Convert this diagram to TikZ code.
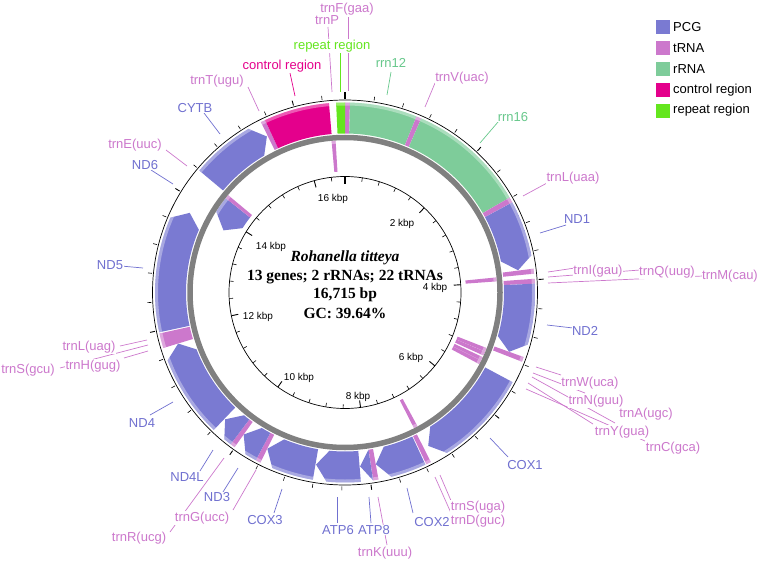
\documentclass[tikz,border=0pt]{standalone}
\usepackage{fontspec}
\setmainfont{Liberation Serif}
\setsansfont{Liberation Sans}

\definecolor{pcg}{RGB}{122,122,210}
\definecolor{trna}{RGB}{204,120,204}
\definecolor{rrna}{RGB}{126,204,154}
\definecolor{ctrl}{RGB}{228,0,140}
\definecolor{rept}{RGB}{100,230,30}
\definecolor{pcgtext}{RGB}{112,112,208}
\definecolor{rrnatext}{RGB}{104,200,140}
\definecolor{ring}{RGB}{128,128,128}

\tikzset{
  lab/.style={font=\sffamily\fontsize{13}{15}\selectfont, inner sep=0.5pt, fill=white},
  kbp/.style={font=\sffamily\fontsize{10}{12}\selectfont, inner sep=0pt},
  ctr/.style={font=\bfseries\fontsize{15.5}{18}\selectfont, inner sep=0pt},
  leg/.style={font=\sffamily\fontsize{13}{15}\selectfont, inner sep=0pt, anchor=west}
}

% shade a feature: light outer edge, slightly darker inner edge
\newcommand{\geneshade}[3]{%
  \fill[#3] #1;
  \begin{scope}
    \clip #1;
    \draw[white, opacity=0.35, line width=3pt] (0,0) circle[radius=#2];
  \end{scope}}
% features: inner radius, outer radius, start bp, end bp, colour
\newcommand{\genebox}[5]{%
  \edef\fa{\fpeval{round(#3/16715*360-90,4)}}%
  \edef\fb{\fpeval{round(#4/16715*360-90,4)}}%
  \edef\gpath{(\fa:#2) arc[start angle=\fa,end angle=\fb,radius=#2] -- (\fb:#1)
    arc[start angle=\fb,end angle=\fa,radius=#1] -- cycle}%
  \geneshade{\gpath}{\fpeval{#2-1.5}}{#5}}
\newcommand{\genefwd}[5]{%
  \edef\fa{\fpeval{round(#3/16715*360-90,4)}}%
  \edef\fb{\fpeval{round(#4/16715*360-90,4)}}%
  \edef\fm{\fpeval{(#1+#2)/2}}%
  \edef\fh{\fpeval{round(max(\fa,\fb-12/\fm*57.296),4)}}%
  \edef\gpath{(\fa:#2) arc[start angle=\fa,end angle=\fh,radius=#2] -- (\fb:\fm) -- (\fh:#1)
    arc[start angle=\fh,end angle=\fa,radius=#1] -- cycle}%
  \geneshade{\gpath}{\fpeval{#2-1.5}}{#5}}
\newcommand{\generev}[5]{%
  \edef\fa{\fpeval{round(#3/16715*360-90,4)}}%
  \edef\fb{\fpeval{round(#4/16715*360-90,4)}}%
  \edef\fm{\fpeval{(#1+#2)/2}}%
  \edef\fh{\fpeval{round(min(\fb,\fa+12/\fm*57.296),4)}}%
  \edef\gpath{(\fh:#2) arc[start angle=\fh,end angle=\fb,radius=#2] -- (\fb:#1)
    arc[start angle=\fb,end angle=\fh,radius=#1] -- (\fa:\fm) -- cycle}%
  \geneshade{\gpath}{\fpeval{#2-1.5}}{#5}}

% name/text/colour/label x/label y/ring x/ring y/end x/end y
\def\genelabels{
  trnF/trnF(gaa)/trna/347/9/348/91/348/17,
  trnP/trnP/trna/327/20/332/92/328/27,
  rep/repeat region/rept/332/46/340/92/340/53,
  ctrl/control region/ctrl/282/66/295/96/290/73,
  rrnS/rrn12/rrnatext/391/63/387/95/391/72,
  trnV/trnV(uac)/trna/462/78/425/107/435/83,
  rrnL/rrn16/rrnatext/513/117/480/143/498/122,
  trnLa/trnL(uaa)/trna/573/178/523/196/547/183,
  nadA/ND1/pcgtext/577/219/540/233/566/225,
  trnI/trnI(gau)/trna/598/271/548/272/575/268,
  trnQ/trnQ(uug)/trna/667/272/548/277/640/270,
  trnM/trnM(cau)/trna/730/276/548/283/703/276,
  nadB/ND2/pcgtext/585/331/547/325/573/328,
  trnW/trnW(uca)/trna/590/383/536/367/561/375,
  trnN/trnN(guu)/trna/596/401/533/373/585/393,
  trnA/trnA(ugc)/trna/646/414/532/377/615/423,
  trnY/trnY(gua)/trna/622/432/528/383/593/424,
  trnC/trnC(gca)/trna/673/448/526/389/645/441,
  coxA/COX1/pcgtext/525/465/490/438/508/457,
  trnSa/trnS(uga)/trna/478/507/440/475/452/503,
  trnD/trnD(guc)/trna/478/521/435/477/451/513,
  coxB/COX2/pcgtext/432/522/407/488/413/513,
  atpB/ATP8/pcgtext/374/530/369/497/371/523,
  trnK/trnK(uuu)/trna/385/553/378/497/387/545,
  atpA/ATP6/pcgtext/338/530/337/497/337/523,
  coxC/COX3/pcgtext/265/520/282/489/274/513,
  trnG/trnG(ucc)/trna/202/518/256/470/233/510,
  nadC/ND3/pcgtext/217/497/238/468/223/492,
  nadD/ND4L/pcgtext/187/477/213/450/200/471,
  trnR/trnR(ucg)/trna/139/538/224/458/170/532,
  nadE/ND4/pcgtext/142/423/173/402/150/415,
  trnLb/trnL(uag)/trna/89/347/147/340/120/346,
  trnH/trnH(gug)/trna/93/366/148/351/124/358,
  trnSb/trnS(gcu)/trna/28/370/148/345/60/368,
  nadF/ND5/pcgtext/110/265/143/268/121/266,
  nadG/ND6/pcgtext/145/165/173/184/151/170,
  trnE/trnE(uuc)/trna/135/145/187/166/166/150,
  cob/CYTB/pcgtext/195/108/220/134/204/113,
  trnT/trnT(ugu)/trna/217/81/259/111/248/87}

\begin{document}
\begin{tikzpicture}[x=1pt,y=-1pt]
\useasboundingbox (0,0) rectangle (760,564);

\begin{scope}[shift={(345,292.5)}]
% outer strand
\genebox{159}{190}{1}{69}{trna}
\genebox{159}{190}{70}{1026}{rrna}
\genebox{159}{190}{1027}{1098}{trna}
\genebox{159}{190}{1099}{2787}{rrna}
\genebox{159}{190}{2788}{2863}{trna}
\genefwd{159}{190}{2865}{3839}{pcg}
\genebox{159}{190}{3844}{3915}{trna}
\genebox{159}{190}{3986}{4054}{trna}
\genefwd{159}{190}{4055}{5101}{pcg}
\genebox{159}{190}{5101}{5171}{trna}
\genefwd{159}{190}{5485}{7035}{pcg}
\genebox{159}{190}{7110}{7181}{trna}
\genefwd{159}{190}{7195}{7885}{pcg}
\genebox{159}{190}{7886}{7961}{trna}
\genefwd{159}{190}{7963}{8127}{pcg}
\genefwd{159}{190}{8135}{8801}{pcg}
\genefwd{159}{190}{8810}{9585}{pcg}
\genebox{159}{190}{9586}{9657}{trna}
\genefwd{159}{190}{9658}{10006}{pcg}
\genebox{159}{190}{10006}{10075}{trna}
\genefwd{159}{190}{10076}{10372}{pcg}
\genefwd{159}{190}{10385}{11746}{pcg}
\genebox{159}{190}{11747}{11958}{trna}
\genefwd{159}{190}{11975}{13797}{pcg}
\genefwd{159}{190}{14390}{15480}{pcg}
\genebox{159}{190}{15495}{15560}{trna}
\genebox{159}{190}{15560}{16490}{ctrl}
\genebox{159}{190}{16590}{16715}{rept}
% inner strand
\genebox{121}{152}{3914}{3984}{trna}
\genebox{121}{152}{5173}{5241}{trna}
\genebox{121}{152}{5243}{5315}{trna}
\genebox{121}{152}{5346}{5412}{trna}
\genebox{121}{152}{5413}{5483}{trna}
\genebox{121}{152}{7036}{7106}{trna}
\generev{121}{152}{13794}{14315}{pcg}
\genebox{121}{152}{14316}{14384}{trna}
\genebox{121}{152}{16480}{16550}{trna}

\draw[ring, line width=5.5pt] (0,0) circle[radius=155];
\draw[line width=0.7pt] (0,0) circle[radius=192.5];
\draw[line width=0.7pt] (0,0) circle[radius=116];

% ticks every 400 bp
\foreach \k in {1,...,41}{
  \pgfmathsetmacro\ta{\k*0.4/16.715*360-90}
  \pgfmathtruncatemacro\mj{mod(\k,5)}
  \ifnum\mj=0
    \draw[line width=0.9pt] (\ta:116) -- (\ta:109) (\ta:194) -- (\ta:199);
  \else
    \draw[line width=0.6pt] (\ta:116) -- (\ta:112) (\ta:194) -- (\ta:198);
  \fi}
\draw[line width=1.6pt] (-90:116) -- (-90:108) (-90:193.5) -- (-90:200);
\end{scope}

% scale labels
\node[kbp] (k2) at (402,224) {2 kbp};
\node[kbp] (k4) at (435,288) {4 kbp};
\node[kbp] (k6) at (411,358) {6 kbp};
\node[kbp] (k8) at (358,397) {8 kbp};
\node[kbp] (k10) at (299,378) {10 kbp};
\node[kbp] (k12) at (258,317) {12 kbp};
\node[kbp] (k14) at (271,247) {14 kbp};
\node[kbp] (k16) at (333,199) {16 kbp};

% centre
\node[ctr, font=\bfseries\itshape\fontsize{15.5}{18}\selectfont] (species) at (345,258) {Rohanella titteya};
\node[ctr] (counts) at (345,277) {13 genes; 2 rRNAs; 22 tRNAs};
\node[ctr] (length) at (345,295) {16,715 bp};
\node[ctr] (gc) at (345,313) {GC: 39.64\%};

% gene labels
\foreach \nm/\txt/\col/\tx/\ty/\ax/\ay/\bx/\by in \genelabels{
  \coordinate (\nm-a) at (\ax,\ay);
  \coordinate (\nm-b) at (\bx,\by);
  \draw[\col, line width=0.7pt] (\nm-a) -- (\nm-b);}
\foreach \nm/\txt/\col/\tx/\ty/\ax/\ay/\bx/\by in \genelabels
  \node[lab, text=\col] (\nm) at (\tx,\ty) {\txt};

% legend
\foreach \i/\c/\t in {0/pcg/PCG,1/trna/tRNA,2/rrna/rRNA,3/ctrl/control region,4/rept/repeat region}{
  \fill[\c] (656,20+20.9*\i) rectangle (670,34+20.9*\i);
  \node[leg] (leg-\i) at (673,27+20.9*\i) {\t};}
\end{tikzpicture}
\end{document}
